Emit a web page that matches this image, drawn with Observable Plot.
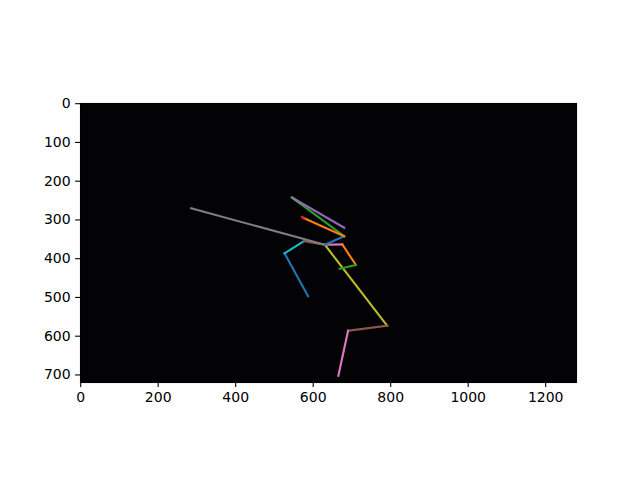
<!DOCTYPE html>
<html>
<head>
<meta charset="utf-8">
<script src="https://cdn.jsdelivr.net/npm/d3@7"></script>
<script src="https://cdn.jsdelivr.net/npm/@observablehq/plot@0.6"></script>
<style>
  html, body { margin: 0; padding: 0; background: white; }
</style>
</head>
<body>
<div id="chart"></div>
<script>
// Skeleton segments (image pixel coordinates)
const segX1 = [587, 526, 576, 285, 630, 791, 690, 630, 675, 710, 630, 680, 680, 571, 545, 545];
const segY1 = [497, 386, 355, 270, 364, 573, 586, 364, 363, 416, 364, 342, 342, 292, 242, 242];
const segX2 = [526, 576, 630, 630, 791, 690, 665, 675, 710, 668, 680, 548, 575, 577, 680, 566];
const segY2 = [386, 355, 364, 364, 573, 586, 702, 363, 416, 426, 342, 244, 295, 297, 320, 257];
const segColor = ["#1f77b4", "#17becf", "#8c564b", "#7f7f7f", "#bcbd22", "#8c564b", "#e377c2",
                  "#e377c2", "#ff7f0e", "#2ca02c", "#1f77b4", "#2ca02c", "#ff7f0e", "#d62728",
                  "#9467bd", "#7f7f7f"];
const xTicks = [0, 200, 400, 600, 800, 1000, 1200];
const yTicks = [0, 100, 200, 300, 400, 500, 600, 700];
const imageWidth = 1280;
const imageHeight = 720;

const segments = segX1.map((x1, i) => ({
  x1, y1: segY1[i], x2: segX2[i], y2: segY2[i], color: segColor[i]
}));

const chart = Plot.plot({
  width: 640,
  height: 480,
  marginLeft: 80,
  marginRight: 64,
  marginTop: 103,
  marginBottom: 98,
  x: {domain: [-0.5, imageWidth - 0.5]},
  y: {domain: [-0.5, imageHeight - 0.5], reverse: true},
  style: {fontFamily: "DejaVu Sans", fontSize: "14px", background: "white", color: "black"},
  marks: [
    Plot.frame({fill: "#030306", stroke: null}),
    Plot.link(segments, {
      x1: "x1", y1: "y1", x2: "x2", y2: "y2",
      stroke: "color", strokeWidth: 2.1, strokeLinecap: "square"
    }),
    Plot.frame({stroke: "black", strokeWidth: 1.1}),
    Plot.axisX({ticks: xTicks, tickSize: 4.9, tickPadding: 4.9, label: null,
                tickFormat: d => String(d), fontSize: 14, stroke: "black", strokeWidth: 1.1}),
    Plot.axisY({ticks: yTicks, tickSize: 4.9, tickPadding: 4.9, label: null,
                tickFormat: d => String(d), fontSize: 14, stroke: "black", strokeWidth: 1.1})
  ]
});
document.getElementById("chart").appendChild(chart);
</script>
</body>
</html>
